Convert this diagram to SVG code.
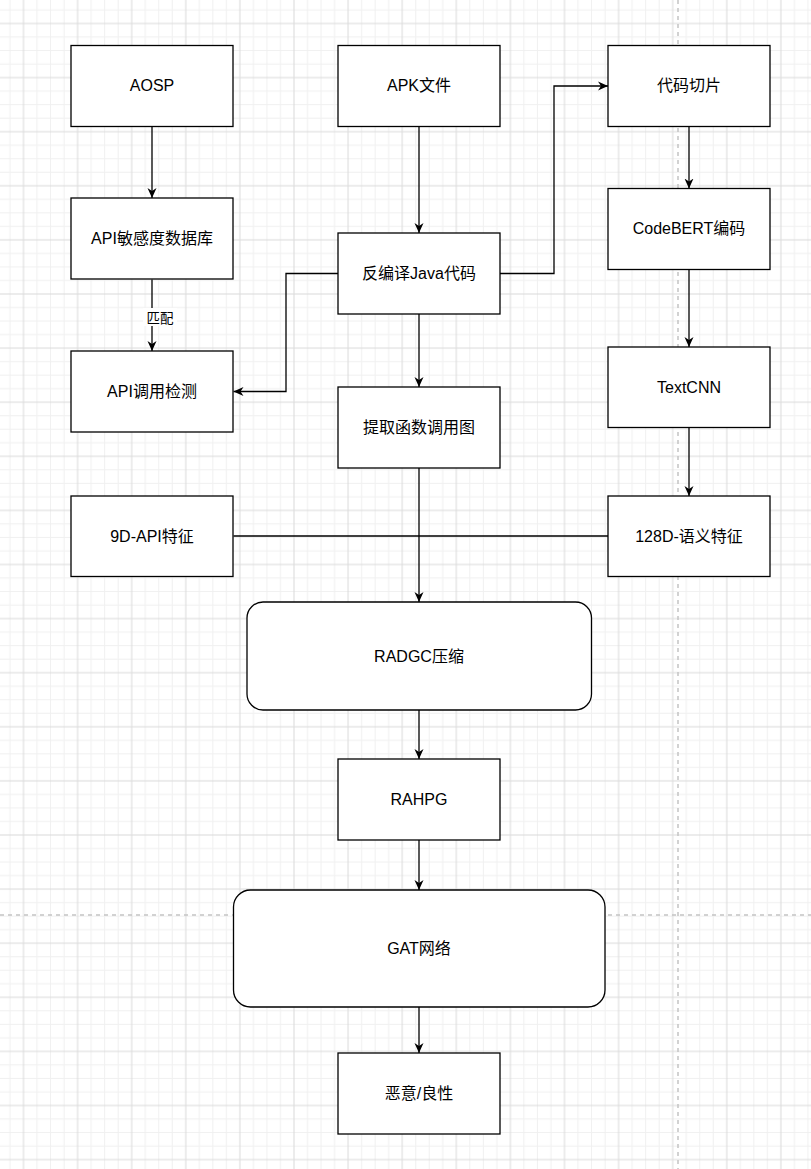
<svg xmlns="http://www.w3.org/2000/svg" width="811" height="1169" viewBox="0 0 811 1169">
  <defs>
    <pattern id="grid" patternUnits="userSpaceOnUse" x="-4.05" y="-4.05" width="54.1" height="54.1">
      <rect x="0" y="0" width="1" height="54.1" fill="#f0f0f0"/>
      <rect x="13.525" y="0" width="1" height="54.1" fill="#f0f0f0"/>
      <rect x="40.575" y="0" width="1" height="54.1" fill="#f0f0f0"/>
      <rect x="0" y="0" width="54.1" height="1" fill="#f0f0f0"/>
      <rect x="0" y="13.525" width="54.1" height="1" fill="#f0f0f0"/>
      <rect x="0" y="40.575" width="54.1" height="1" fill="#f0f0f0"/>
      <rect x="27.05" y="0" width="1" height="54.1" fill="#dadada"/>
      <rect x="0" y="27.05" width="54.1" height="1" fill="#dadada"/>
    </pattern>
    <marker id="arrow" viewBox="0 0 10 10" refX="10" refY="5" markerWidth="10" markerHeight="10" markerUnits="userSpaceOnUse" orient="auto">
      <path d="M0,0.5 L10,5 L0,9.5 L3,5 Z" fill="#000"/>
    </marker>
    <style>
      .box { fill: #fff; stroke: #000; stroke-width: 1.3; }
      .lbl { font-family: "Liberation Sans", Arial, "Noto Sans CJK SC", sans-serif; font-size: 16px; fill: #000; text-anchor: middle; }
      .small { font-size: 13.5px; }
      .edge { fill: none; stroke: #000; stroke-width: 1.3; }
      .arr { marker-end: url(#arrow); }
      .page { stroke: #c4c4c4; stroke-width: 1.5; stroke-dasharray: 4 4; fill: none; }
    </style>
  </defs>

  <rect x="0" y="0" width="811" height="1169" fill="#fff"/>
  <rect x="0" y="0" width="811" height="1169" fill="url(#grid)"/>
  <line class="page" x1="678" y1="0" x2="678" y2="1169"/>
  <line class="page" x1="0" y1="915" x2="811" y2="915"/>

  <g id="connectors">
    <path class="edge arr" d="M152,126.5 L152,198"/>
    <path class="edge arr" d="M152,279.5 L152,351"/>
    <rect x="143" y="308" width="34" height="18" fill="#fff"/>
    <text class="lbl small" x="160" y="322.5">匹配</text>
    <path class="edge arr" d="M419,126.5 L419,233"/>
    <path class="edge arr" d="M338,273.5 L286,273.5 L286,391.5 L233.5,391.5"/>
    <path class="edge arr" d="M500,273.5 L554,273.5 L554,86 L608,86"/>
    <path class="edge arr" d="M419,314 L419,387"/>
    <path class="edge arr" d="M419,468 L419,602"/>
    <path class="edge" d="M233.5,536 L608,536"/>
    <path class="edge arr" d="M689,126.5 L689,188.5"/>
    <path class="edge arr" d="M689,269.5 L689,347"/>
    <path class="edge arr" d="M689,427.5 L689,496"/>
    <path class="edge arr" d="M419,710 L419,759"/>
    <path class="edge arr" d="M419,840 L419,890"/>
    <path class="edge arr" d="M419,1007 L419,1053"/>
  </g>

  <g id="aosp">
    <rect class="box" x="71" y="45.5" width="162" height="81"/>
    <text class="lbl" x="152" y="91">AOSP</text>
  </g>
  <g id="api-db">
    <rect class="box" x="71" y="198" width="162" height="81"/>
    <text class="lbl" x="152" y="244">API敏感度数据库</text>
  </g>
  <g id="api-detect">
    <rect class="box" x="71" y="351" width="162" height="81"/>
    <text class="lbl" x="152" y="397">API调用检测</text>
  </g>
  <g id="api-feat">
    <rect class="box" x="71" y="496" width="162" height="80.5"/>
    <text class="lbl" x="152" y="541.5">9D-API特征</text>
  </g>
  <g id="apk">
    <rect class="box" x="338" y="45.5" width="162" height="81"/>
    <text class="lbl" x="419" y="91">APK文件</text>
  </g>
  <g id="decompile">
    <rect class="box" x="338" y="233" width="162" height="81"/>
    <text class="lbl" x="419" y="279">反编译Java代码</text>
  </g>
  <g id="callgraph">
    <rect class="box" x="338" y="387" width="162" height="81"/>
    <text class="lbl" x="419" y="433">提取函数调用图</text>
  </g>
  <g id="slice">
    <rect class="box" x="608" y="45.5" width="162" height="81"/>
    <text class="lbl" x="689" y="91">代码切片</text>
  </g>
  <g id="codebert">
    <rect class="box" x="608" y="188.5" width="162" height="81"/>
    <text class="lbl" x="689" y="234">CodeBERT编码</text>
  </g>
  <g id="textcnn">
    <rect class="box" x="608" y="347" width="162" height="80.5"/>
    <text class="lbl" x="689" y="392.5">TextCNN</text>
  </g>
  <g id="sem-feat">
    <rect class="box" x="608" y="496" width="162" height="80.5"/>
    <text class="lbl" x="689" y="541.5">128D-语义特征</text>
  </g>
  <g id="radgc">
    <rect class="box" x="247" y="602" width="344.5" height="108" rx="16" ry="16"/>
    <text class="lbl" x="419" y="661.5">RADGC压缩</text>
  </g>
  <g id="rahpg">
    <rect class="box" x="338" y="759" width="162" height="81"/>
    <text class="lbl" x="419" y="805">RAHPG</text>
  </g>
  <g id="gat">
    <rect class="box" x="233.5" y="890" width="371.5" height="117" rx="17" ry="17"/>
    <text class="lbl" x="419" y="954">GAT网络</text>
  </g>
  <g id="result">
    <rect class="box" x="338" y="1053" width="162" height="81"/>
    <text class="lbl" x="419" y="1099">恶意/良性</text>
  </g>
</svg>
